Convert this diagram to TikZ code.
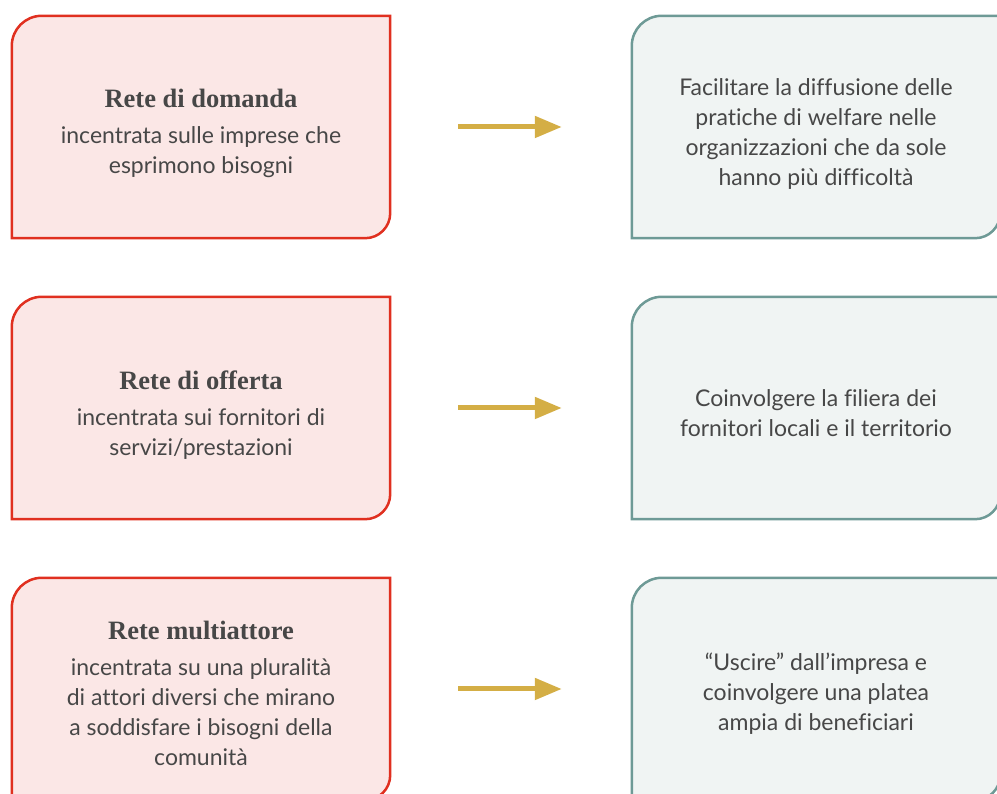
\documentclass[tikz,border=0pt]{standalone}
\usepackage{fontspec}
\setmainfont{Lato}[Ligatures=NoCommon]
\newfontfamily\headfont{Liberation Serif}
\usetikzlibrary{arrows.meta,positioning}

\definecolor{netred}{HTML}{E03020}
\definecolor{netpink}{HTML}{FBE7E6}
\definecolor{aimteal}{HTML}{6E9A96}
\definecolor{aimgrey}{HTML}{F0F4F3}
\definecolor{flowgold}{HTML}{D4AE45}
\definecolor{inkgrey}{HTML}{474747}

\tikzset{
  netbox/.style={minimum width=378pt, minimum height=222pt, align=center,
    text=inkgrey, font=\fontsize{23}{30}\selectfont, inner sep=0pt},
  aimbox/.style={minimum width=368pt, minimum height=222pt, align=center,
    text=inkgrey, font=\fontsize{23}{30}\selectfont, inner sep=0pt},
  flow/.style={draw=flowgold, line width=5pt,
    -{Triangle[length=27pt,width=21pt]}, shorten <=68pt, shorten >=70pt}
}

\newcommand\headline[1]{{\headfont\bfseries\fontsize{26.5}{30}\selectfont #1}\\[6pt]}
% leaf-shaped outline round a named node
\newcommand\leafpath[2]{%
  \draw[#2] (#1.south west) -- ([yshift=-30pt]#1.north west)
    arc[start angle=180, end angle=90, radius=30pt]
    -- (#1.north east) -- ([yshift=25pt]#1.south east)
    arc[start angle=0, end angle=-90, radius=25pt] -- cycle;}

\begin{document}
\begin{tikzpicture}[x=1pt,y=1pt]
\useasboundingbox (0,0) rectangle (997,794);
\clip (0,0) rectangle (997,794);

% networks
\node[netbox] (dom) at (201,667) {};
\node[netbox] (off) at (201,386) {};
\node[netbox] (mul) at (201,105) {};
% aims
\node[aimbox] (dif) at (816,667) {};
\node[aimbox] (fil) at (816,386) {};
\node[aimbox] (usc) at (816,105) {};

\foreach \n in {dom,off,mul}{
  \leafpath{\n}{draw=netred, fill=netpink, line width=2.5pt}
}
\foreach \n in {dif,fil,usc}{
  \leafpath{\n}{draw=aimteal, fill=aimgrey, line width=2.5pt}
}

\node[netbox, minimum height=0pt] at ([yshift=-6pt]dom.center)
  {\headline{Rete di domanda}incentrata sulle imprese che\\esprimono bisogni};
\node[netbox, minimum height=0pt] at ([yshift=-7pt]off.center)
  {\headline{Rete di offerta}incentrata sui fornitori di\\servizi/prestazioni};
\node[netbox, minimum height=0pt] at ([yshift=-4pt]mul.center)
  {\headline{Rete multiattore}incentrata su una pluralità\\di attori diversi che mirano\\a soddisfare i bisogni della\\comunità};

\node[aimbox, minimum height=0pt] at ([yshift=-7pt]dif.center)
  {Facilitare la diffusione delle\\pratiche di welfare nelle\\organizzazioni che da sole\\hanno più difficoltà};
\node[aimbox, minimum height=0pt] at ([yshift=-5pt]fil.center)
  {Coinvolgere la filiera dei\\fornitori locali e il territorio};
\node[aimbox, minimum height=0pt] at ([yshift=-5pt]usc.center)
  {“Uscire” dall’impresa e\\coinvolgere una platea\\ampia di beneficiari};

\draw[flow] (dom) -- (dif);
\draw[flow] (off) -- (fil);
\draw[flow] (mul) -- (usc);
\end{tikzpicture}
\end{document}
